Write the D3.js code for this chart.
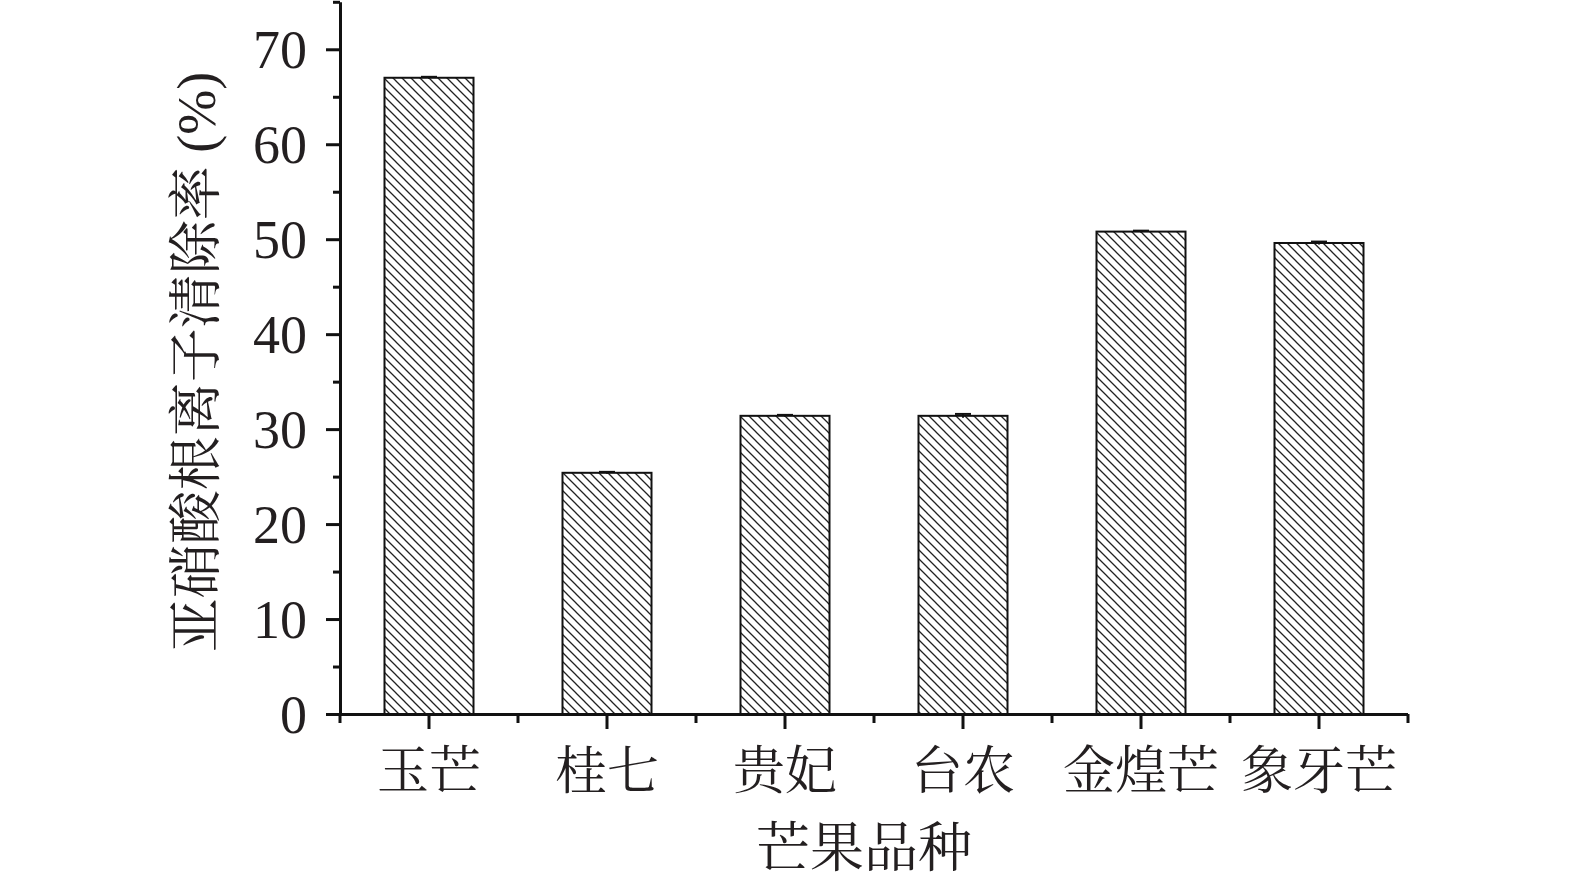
<!DOCTYPE html>
<html>
<head>
<meta charset="utf-8">
<script src="https://cdn.jsdelivr.net/npm/d3@7"></script>
<style>
  html, body { margin: 0; padding: 0; background: #fff; }
  svg { display: block; }
  text { font-family: "Liberation Serif", "Times New Roman", "Noto Serif CJK SC", "Noto Sans CJK SC", serif; fill: #231f20; }
</style>
</head>
<body>
<svg id="chart" width="1575" height="882"></svg>
<script>
const categories = ["玉芒", "桂七", "贵妃", "台农", "金煌芒", "象牙芒"];
const values = [67.0, 25.4, 31.4, 31.4, 50.8, 49.6];
const errors = [0.1, 0.1, 0.1, 0.2, 0.1, 0.15];
const yTicks = [0, 10, 20, 30, 40, 50, 60, 70];
const yMinorTicks = [5, 15, 25, 35, 45, 55, 65, 75];
const xLabel = "芒果品种";
const yLabel = "亚硝酸根离子清除率 (%)";

const svg = d3.select("#chart");
const plotLeft = 340, plotRight = 1408, plotBottom = 714;

const x = d3.scaleBand().domain(categories).range([plotLeft, plotRight]).paddingInner(0.5).paddingOuter(0.25);
const y = d3.scaleLinear().domain([0, 75]).range([plotBottom, plotBottom - 75 * 9.496]);

// hatch pattern
const defs = svg.append("defs");
const pat = defs.append("pattern")
  .attr("id", "hatch").attr("patternUnits", "userSpaceOnUse")
  .attr("width", 9).attr("height", 9);
pat.append("rect").attr("width", 9).attr("height", 9).attr("fill", "#fff");
pat.append("path").attr("d", "M-1,-1 L10,10 M-1,8 L1,10 M8,-1 L10,1")
  .attr("stroke", "#222").attr("stroke-width", 1.3);

// bars
svg.append("g").selectAll("rect").data(categories).join("rect")
  .attr("x", d => x(d))
  .attr("y", (d, i) => y(values[i]))
  .attr("width", x.bandwidth())
  .attr("height", (d, i) => y(0) - y(values[i]))
  .attr("fill", "url(#hatch)")
  .attr("stroke", "#111").attr("stroke-width", 2);

// error bars
const eg = svg.append("g").attr("stroke", "#111").attr("stroke-width", 2);
categories.forEach((c, i) => {
  const cx = x(c) + x.bandwidth() / 2;
  eg.append("line").attr("x1", cx).attr("x2", cx).attr("y1", y(values[i] - errors[i])).attr("y2", y(values[i] + errors[i]));
  eg.append("line").attr("x1", cx - 8).attr("x2", cx + 8).attr("y1", y(values[i] + errors[i])).attr("y2", y(values[i] + errors[i]));
});

// y axis
const yAxis = svg.append("g").attr("transform", `translate(${plotLeft},0)`)
  .call(d3.axisLeft(y).tickValues(yTicks).tickSize(14).tickPadding(19).tickSizeOuter(0));
yAxis.select(".domain").attr("stroke", "#111").attr("stroke-width", 3);
yAxis.selectAll(".tick line").attr("stroke", "#111").attr("stroke-width", 3);
yAxis.selectAll(".tick text").attr("font-size", 54).attr("fill", "#231f20")
  .attr("font-family", "Liberation Serif, serif").attr("dy", "0.34em");
const yMinor = svg.append("g").attr("transform", `translate(${plotLeft},0)`)
  .call(d3.axisLeft(y).tickValues(yMinorTicks).tickSize(7).tickFormat(""));
yMinor.select(".domain").remove();
yMinor.selectAll(".tick line").attr("stroke", "#111").attr("stroke-width", 3);

// x axis
const xAxis = svg.append("g").attr("transform", `translate(0,${plotBottom})`)
  .call(d3.axisBottom(x).tickSize(15).tickPadding(16).tickSizeOuter(0));
xAxis.select(".domain").attr("stroke", "#111").attr("stroke-width", 3)
  .attr("d", `M${plotLeft - 14},0.5H${plotRight}`);
xAxis.selectAll(".tick line").attr("stroke", "#111").attr("stroke-width", 3);
xAxis.selectAll(".tick text").attr("font-size", 52).attr("fill", "#231f20").attr("dy", "0.85em")
  .attr("font-family", "Liberation Serif, Noto Serif CJK SC, Noto Sans CJK SC, serif");
// minor x ticks at band edges
const edges = d3.range(categories.length + 1).map(k => plotLeft + k * x.step());
svg.append("g").selectAll("line").data(edges).join("line")
  .attr("x1", d => d).attr("x2", d => d).attr("y1", plotBottom).attr("y2", plotBottom + 9)
  .attr("stroke", "#111").attr("stroke-width", 3);

// axis titles
svg.append("text").attr("x", 864).attr("y", 849)
  .attr("text-anchor", "middle").attr("dominant-baseline", "central")
  .attr("font-size", 54).text(xLabel);
svg.append("text").attr("transform", `translate(197,362) rotate(-90)`)
  .attr("text-anchor", "middle").attr("dominant-baseline", "central")
  .attr("font-size", 54).text(yLabel);
</script>
</body>
</html>
